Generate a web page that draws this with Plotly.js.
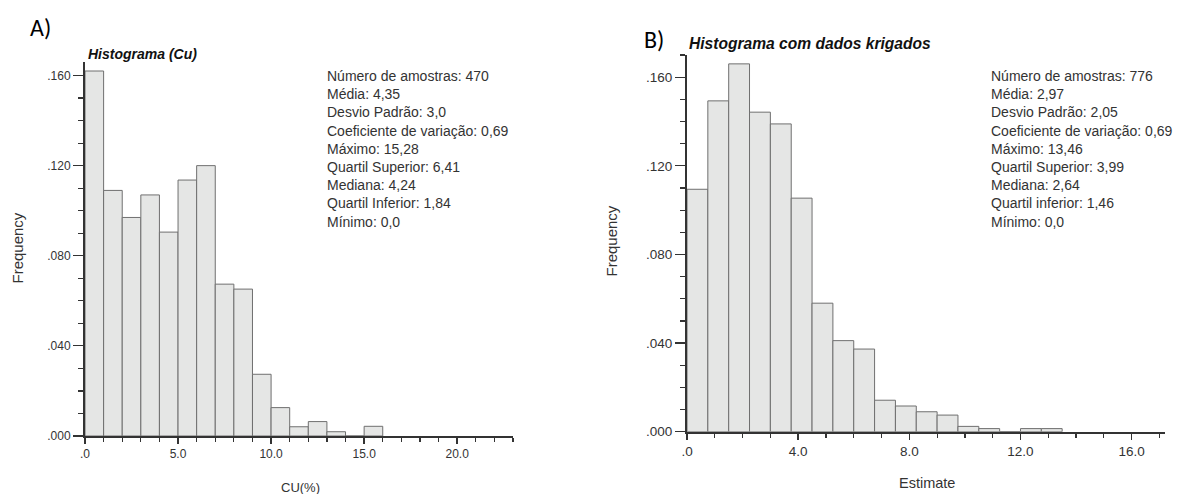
<!DOCTYPE html>
<html>
<head>
<meta charset="utf-8">
<script src="https://cdn.plot.ly/plotly-3.0.1.min.js"></script>
<style>html,body{margin:0;padding:0;background:#fff;}#chart{width:1195px;height:494px;}</style>
</head>
<body>
<div id="chart"></div>
<script>
// ---- Data: panel A (Cu raw samples), bin width 1.0 ----
const binStartA = [0,1,2,3,4,5,6,7,8,9,10,11,12,13,14,15];
const binWidthA = 1.0;
const freqA = [0.162,0.109,0.097,0.107,0.0905,0.1136,0.120,0.0674,0.0652,0.0274,0.0126,0.0041,0.0064,0.0019,0.0,0.0043];

// ---- Data: panel B (kriged estimates), bin width 0.75 ----
const binStartB = [0,0.75,1.5,2.25,3.0,3.75,4.5,5.25,6.0,6.75,7.5,8.25,9.0,9.75,10.5,11.25,12.0,12.75];
const binWidthB = 0.75;
const freqB = [0.1094,0.1493,0.166,0.1442,0.1389,0.1054,0.058,0.0411,0.0373,0.0142,0.0116,0.009,0.0075,0.0024,0.0014,0.0,0.0014,0.0014];

// ---- Tick labels ----
const yTickVals = [0,0.04,0.08,0.12,0.16];
const yTickText = ['.000','.040','.080','.120','.160'];
const xTickValsA = [0,5,10,15,20];
const xTickTextA = ['.0','5.0','10.0','15.0','20.0'];
const xTickValsB = [0,4,8,12,16];
const xTickTextB = ['.0','4.0','8.0','12.0','16.0'];

// ---- Texts ----
const titleA = 'Histograma (Cu)';
const titleB = 'Histograma com dados krigados';
const xTitleA = 'CU(%)';
const xTitleB = 'Estimate';
const yTitle = 'Frequency';
const statsA = ['Número de amostras: 470','Média: 4,35','Desvio Padrão: 3,0','Coeficiente de variação: 0,69','Máximo: 15,28','Quartil Superior: 6,41','Mediana: 4,24','Quartil Inferior: 1,84','Mínimo: 0,0'];
const statsB = ['Número de amostras: 776','Média: 2,97','Desvio Padrão: 2,05','Coeficiente de variação: 0,69','Máximo: 13,46','Quartil Superior: 3,99','Mediana: 2,64','Quartil inferior: 1,46','Mínimo: 0,0'];

const W = 1195, H = 494;
const px = v => v / W;
const py = v => 1 - v / H;
const FONT = 'Liberation Sans, Arial, sans-serif';
const barFill = '#e5e6e5';
const barLine = '#6f6f6f';
const axCol = '#333333';

const traces = [
  {type:'bar', x:binStartA, y:freqA, width:binWidthA, offset:0, xaxis:'x', yaxis:'y',
   marker:{color:barFill, line:{color:barLine, width:1}}, hoverinfo:'x+y'},
  {type:'bar', x:binStartB, y:freqB, width:binWidthB, offset:0, xaxis:'x2', yaxis:'y2',
   marker:{color:barFill, line:{color:barLine, width:1}}, hoverinfo:'x+y'}
];

function xAxis(domain, range, vals, text, fs, anchor){
  return {domain:domain, range:range, anchor:anchor, showline:true, linecolor:axCol, linewidth:2,
    ticks:'outside', ticklen:6, tickwidth:1.5, tickcolor:axCol,
    tickmode:'array', tickvals:vals, ticktext:text, tickfont:{family:FONT, size:fs, color:'#333'},
    showgrid:false, zeroline:false, fixedrange:true,
    minor:{ticks:'outside', ticklen:4, tickwidth:1.2, tickcolor:axCol, tickmode:'linear', tick0:0, dtick:1, showgrid:false}};
}
function yAxis(domain, range, fs, anchor){
  return {domain:domain, range:range, anchor:anchor, showline:true, linecolor:axCol, linewidth:2,
    ticks:'outside', ticklen:10, tickwidth:1.2, tickcolor:axCol,
    tickmode:'array', tickvals:yTickVals, ticktext:yTickText, tickfont:{family:FONT, size:fs, color:'#333'},
    showgrid:false, zeroline:false, fixedrange:true,
    minor:{ticks:'outside', ticklen:5, tickwidth:1.2, tickcolor:axCol, tickmode:'linear', tick0:0, dtick:0.01, showgrid:false}};
}

const ann = (x, y, text, opts) => Object.assign({xref:'paper', yref:'paper', x:px(x), y:py(y), text:text, showarrow:false,
  xanchor:'center', yanchor:'middle'}, opts);

const annotations = [
  ann(40.5, 27.5, 'A)', {font:{family:'Carlito, Lato, Open Sans, sans-serif', size:24, color:'#000'}}),
  ann(654, 39, 'B)', {font:{family:'Carlito, Lato, Open Sans, sans-serif', size:24, color:'#000'}}),
  ann(86, 54, '<b><i>'+titleA+'</i></b>', {xanchor:'left', font:{family:FONT, size:14, color:'#111'}}),
  ann(687, 43.5, '<b><i>'+titleB+'</i></b>', {xanchor:'left', font:{family:FONT, size:15.6, color:'#111'}}),
  ann(325, 149, statsA.join('<br>'), {xanchor:'left', align:'left', font:{family:FONT, size:14, color:'#333'}}),
  ann(989, 149, statsB.join('<br>'), {xanchor:'left', align:'left', font:{family:FONT, size:14, color:'#333'}}),
  ann(17.5, 248, yTitle, {textangle:-90, font:{family:FONT, size:15, color:'#333'}}),
  ann(611, 241.5, yTitle, {textangle:-90, font:{family:FONT, size:15, color:'#333'}}),
  ann(300, 487, xTitleA, {font:{family:FONT, size:13, color:'#333'}}),
  ann(927, 483, xTitleB, {font:{family:FONT, size:14.5, color:'#333'}})
];

const layout = {
  width:W, height:H, margin:{l:0,r:0,t:0,b:0}, showlegend:false,
  paper_bgcolor:'#fff', plot_bgcolor:'#fff',
  xaxis: xAxis([px(85), px(513)], [0,23], xTickValsA, xTickTextA, 12, 'y'),
  yaxis: yAxis([58/H, 432/H], [0,0.166], 12, 'x'),
  xaxis2: xAxis([px(687), px(1165)], [0,17.2], xTickValsB, xTickTextB, 13.5, 'y2'),
  yaxis2: yAxis([62.3/H, 439/H], [0,0.170], 13.5, 'x2'),
  annotations: annotations
};

Plotly.newPlot('chart', traces, layout, {displayModeBar:false, staticPlot:true});
</script>
</body>
</html>
